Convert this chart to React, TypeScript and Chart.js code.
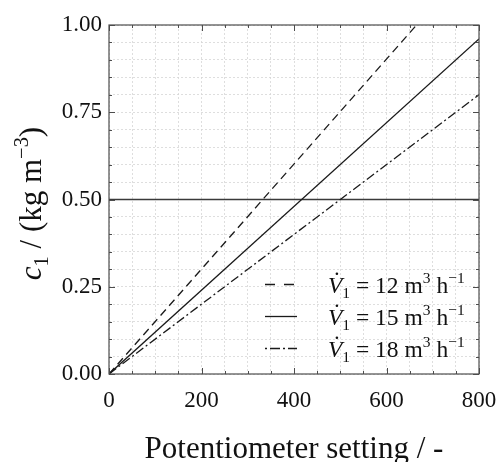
import React, { useEffect, useRef } from 'react';
import { Chart, registerables } from 'chart.js';

Chart.register(...registerables);

// ---- data ----
const potentiometer12 = [0, 665];
const potentiometer = [0, 800];
const conc12 = [0, 1.0];
const conc15 = [0, 0.96];
const conc18 = [0, 0.8];
const referenceConc = [0.5, 0.5];
const flowRates = [12, 15, 18];
const xTickLabels = [0, 200, 400, 600, 800];
const yTickLabels = [0, 0.25, 0.5, 0.75, 1.0];

const FONT = '"Liberation Serif", "DejaVu Serif", serif';

type Seg = { t: string; style?: 'it' | 'sub' | 'sup'; dot?: boolean };

function drawRich(
  ctx: CanvasRenderingContext2D,
  segs: Seg[],
  x: number,
  y: number,
  size: number,
  align: 'left' | 'center'
) {
  const fontFor = (s: Seg) => {
    const small = s.style === 'sub' || s.style === 'sup';
    const sz = small ? size * 0.66 : size;
    return `${s.style === 'it' ? 'italic ' : ''}${sz}px ${FONT}`;
  };
  const widths = segs.map((s) => {
    ctx.font = fontFor(s);
    return ctx.measureText(s.t).width;
  });
  const total = widths.reduce((a, b) => a + b, 0);
  let cx = align === 'center' ? x - total / 2 : x;
  ctx.textAlign = 'left';
  ctx.textBaseline = 'alphabetic';
  segs.forEach((s, i) => {
    ctx.font = fontFor(s);
    let dy = 0;
    if (s.style === 'sub') dy = size * 0.22;
    if (s.style === 'sup') dy = -size * 0.42;
    ctx.fillText(s.t, cx, y + dy);
    if (s.dot) {
      ctx.beginPath();
      ctx.arc(cx + widths[i] * 0.62, y - size * 0.82, size * 0.055, 0, Math.PI * 2);
      ctx.fill();
    }
    cx += widths[i];
  });
}

const isMultiple = (v: number, list: number[]) => list.some((l) => Math.abs(l - v) < 1e-6);

const framePlugin = {
  id: 'frameTicks',
  afterDatasetsDraw(chart: any) {
    const { ctx, chartArea: a, scales } = chart;
    const xs = scales.x;
    const ys = scales.y;
    ctx.save();
    ctx.strokeStyle = '#4d4d4d';
    ctx.lineWidth = 1;
    ctx.setLineDash([]);
    xs.ticks.forEach((t: any) => {
      const px = Math.round(xs.getPixelForValue(t.value)) + 0.5;
      const len = isMultiple(t.value, xTickLabels) ? 6 : 3;
      ctx.beginPath();
      ctx.moveTo(px, a.bottom);
      ctx.lineTo(px, a.bottom - len);
      ctx.moveTo(px, a.top);
      ctx.lineTo(px, a.top + len);
      ctx.stroke();
    });
    ys.ticks.forEach((t: any) => {
      const py = Math.round(ys.getPixelForValue(t.value)) + 0.5;
      const len = isMultiple(t.value, yTickLabels) ? 6 : 3;
      ctx.beginPath();
      ctx.moveTo(a.left, py);
      ctx.lineTo(a.left + len, py);
      ctx.moveTo(a.right, py);
      ctx.lineTo(a.right - len, py);
      ctx.stroke();
    });
    ctx.lineWidth = 1.2;
    ctx.strokeRect(a.left, a.top, a.right - a.left, a.bottom - a.top);
    ctx.restore();
  },
  afterDraw(chart: any) {
    const { ctx, chartArea: a } = chart;
    ctx.save();
    ctx.fillStyle = '#111';
    ctx.font = `31px ${FONT}`;
    ctx.textAlign = 'center';
    ctx.textBaseline = 'alphabetic';
    ctx.fillText('Potentiometer setting / -', (a.left + a.right) / 2, 458);
    ctx.save();
    ctx.translate(41, (a.top + a.bottom) / 2 + 4);
    ctx.rotate(-Math.PI / 2);
    drawRich(
      ctx,
      [
        { t: 'c', style: 'it' },
        { t: '1', style: 'sub' },
        { t: ' / (kg m' },
        { t: '−3', style: 'sup' },
        { t: ')' },
      ],
      0,
      0,
      31,
      'center'
    );
    ctx.restore();
    const ds = chart.data.datasets;
    const rowY = [284, 316, 348];
    for (let i = 0; i < 3; i++) {
      const d = ds[i];
      const y = rowY[i] + 0.5;
      ctx.save();
      ctx.strokeStyle = d.borderColor;
      ctx.lineWidth = d.borderWidth;
      ctx.setLineDash(d.legendDash || d.borderDash || []);
      ctx.beginPath();
      ctx.moveTo(265, y);
      ctx.lineTo(297, y);
      ctx.stroke();
      ctx.restore();
      drawRich(
        ctx,
        [
          { t: 'V', style: 'it', dot: true },
          { t: '1', style: 'sub' },
          { t: ` = ${flowRates[i]} m` },
          { t: '3', style: 'sup' },
          { t: ' h' },
          { t: '−1', style: 'sup' },
        ],
        328,
        rowY[i] + 9,
        23.5,
        'left'
      );
    }
    ctx.restore();
  },
};

export default function App() {
  const ref = useRef<HTMLCanvasElement>(null);
  useEffect(() => {
    if (!ref.current) return;
    const toPts = (xs: number[], ys: number[]) => xs.map((x, i) => ({ x, y: ys[i] }));
    const chart = new Chart(ref.current, {
      type: 'line',
      data: {
        datasets: [
          {
            label: `V̇₁ = ${flowRates[0]} m³ h⁻¹`,
            data: toPts(potentiometer12, conc12),
            borderColor: '#1a1a1a',
            borderWidth: 1.3,
            borderDash: [8, 5],
            legendDash: [10, 9],
            pointRadius: 0,
          } as any,
          {
            label: `V̇₁ = ${flowRates[1]} m³ h⁻¹`,
            data: toPts(potentiometer, conc15),
            borderColor: '#1a1a1a',
            borderWidth: 1.3,
            pointRadius: 0,
          },
          {
            label: `V̇₁ = ${flowRates[2]} m³ h⁻¹`,
            data: toPts(potentiometer, conc18),
            borderColor: '#1a1a1a',
            borderWidth: 1.3,
            borderDash: [9, 3, 2, 3],
            legendDash: [2, 3, 10, 3],
            pointRadius: 0,
          } as any,
          {
            label: 'c₁ = 0.50',
            data: toPts(potentiometer, referenceConc),
            borderColor: '#3a3a3a',
            borderWidth: 1.6,
            pointRadius: 0,
          },
        ],
      },
      options: {
        responsive: false,
        animation: false,
        layout: { padding: { top: 25, right: 20, left: 0, bottom: 0 } },
        plugins: { legend: { display: false }, tooltip: { enabled: false } },
        scales: {
          x: {
            type: 'linear',
            min: 0,
            max: 800,
            afterFit: (s: any) => {
              s.height = 88;
              s.paddingLeft = 0;
              s.paddingRight = 0;
            },
            ticks: {
              stepSize: 50,
              autoSkip: false,
              maxRotation: 0,
              padding: 13,
              color: '#111',
              font: { family: FONT, size: 23 },
              callback: (v: any) => (isMultiple(Number(v), xTickLabels) ? String(v) : ''),
            },
            grid: { color: '#d6d6d6', lineWidth: 0.8, drawTicks: false },
            border: { display: false, dash: [2, 2] },
          },
          y: {
            type: 'linear',
            min: 0,
            max: 1,
            afterFit: (s: any) => {
              s.width = 109;
              s.paddingTop = 0;
              s.paddingBottom = 0;
            },
            ticks: {
              stepSize: 0.05,
              autoSkip: false,
              padding: 7,
              color: '#111',
              font: { family: FONT, size: 23 },
              callback: (v: any) => (isMultiple(Number(v), yTickLabels) ? Number(v).toFixed(2) : ''),
            },
            grid: { color: '#d6d6d6', lineWidth: 0.8, drawTicks: false },
            border: { display: false, dash: [2, 2] },
          },
        },
      },
      plugins: [framePlugin],
    });
    return () => chart.destroy();
  }, []);
  return (
    <canvas
      ref={ref}
      width={499}
      height={462}
      style={{ position: 'fixed', left: 0, top: 0, width: 499, height: 462, background: '#fff' }}
    />
  );
}
